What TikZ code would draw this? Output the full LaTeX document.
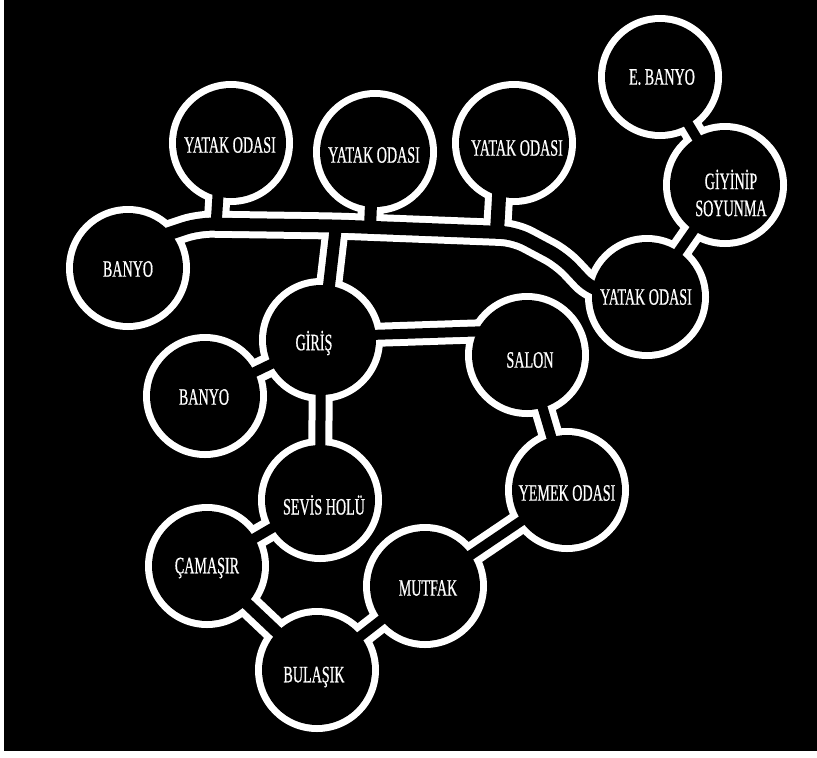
\documentclass[tikz,border=0pt]{standalone}
\usepackage{fontspec}
\newfontfamily\lblfont[FakeStretch=0.6,FakeBold=0.6]{Liberation Serif}
\begin{document}
\begin{tikzpicture}[x=1pt,y=-1pt,
  wallw/.style={draw=white,line width=#1,line cap=butt,line join=round},
  wallb/.style={draw=black,line width=#1,line cap=butt,line join=round},
  lbl/.style={text=white,font=\lblfont\fontsize{23.5}{27}\selectfont,align=center,inner sep=0pt}]
\useasboundingbox (0,0) rectangle (817,758);
\fill[white] (0,0) rectangle (817,758);
\fill[black] (4,0) rectangle (817,751);
% room centres
\coordinate (ya) at (231,143);
\coordinate (yb) at (375,152);
\coordinate (yc) at (514,143);
\coordinate (eb) at (660,77);
\coordinate (gs) at (725,185);
\coordinate (yd) at (647,297);
\coordinate (ba) at (128,268);
\coordinate (gi) at (321,340);
\coordinate (bb) at (205,396);
\coordinate (sa) at (527,355);
\coordinate (ye) at (567,490);
\coordinate (se) at (320,500);
\coordinate (ca) at (207,566);
\coordinate (mu) at (425,586);
\coordinate (bu) at (317,670);
% hallway points
\coordinate (h0) at (150,240);
\coordinate (hA) at (198,224);
\coordinate (h1) at (336,226);
\coordinate (h2) at (515,233);
\coordinate (h3) at (562,258);
\coordinate (h4) at (592,290);
\coordinate (h5) at (640,297);
\coordinate (na) at (219,180);
\coordinate (nb) at (372,180);
\coordinate (nc) at (500,180);
\coordinate (ma) at (216,226);
\coordinate (mb) at (370,228);
\coordinate (mc) at (497,232);
\coordinate (gu) at (325,320);
\coordinate (gsa1) at (340,336);
\coordinate (gsa2) at (490,331);
% white pass
\foreach \c in {ya,yb,yc,eb,gs,yd,ba,gi,bb,sa,ye,se,ca,mu,bu}
  \fill[white] (\c) circle (62pt);
\draw[wallw=27,rounded corners=14pt] (h0) -- (hA) -- (h1) -- (h2) -- (h3) -- (h4) -- (h5);
\foreach \a/\b/\w in {na/ma/11, nb/mb/12, nc/mc/14, h1/gu/12, gsa1/gsa2/10,
  gi/se/10, gi/bb/10, sa/ye/10, ye/mu/10, mu/bu/10, bu/ca/12, ca/se/10,
  eb/gs/10, gs/yd/10}
  \draw[wallw=\w+14] (\a) -- (\b);
% black pass
\foreach \c in {ya,yb,yc,eb,gs,yd,ba,gi,bb,sa,ye,se,ca,mu,bu}
  \fill[black] (\c) circle (55pt);
\draw[wallb=13,rounded corners=14pt] (h0) -- (hA) -- (h1) -- (h2) -- (h3) -- (h4) -- (h5);
\foreach \a/\b/\w in {na/ma/11, nb/mb/12, nc/mc/14, h1/gu/12, gsa1/gsa2/10,
  gi/se/10, gi/bb/10, sa/ye/10, ye/mu/10, mu/bu/10, bu/ca/12, ca/se/10,
  eb/gs/10, gs/yd/10}
  \draw[wallb=\w] (\a) -- (\b);
% labels
\node[lbl] (tya) at (230,145) {YATAK ODASI};
\node[lbl] (tyb) at (374,155) {YATAK ODASI};
\node[lbl] (tyc) at (517,148) {YATAK ODASI};
\node[lbl] (teb) at (662,77) {E. BANYO};
\node[lbl] (tgs) at (731,193) {GİYİNİP\\SOYUNMA};
\node[lbl] (tyd) at (646,297) {YATAK ODASI};
\node[lbl] (tba) at (128,269) {BANYO};
\node[lbl] (tgi) at (314,343) {GİRİŞ};
\node[lbl] (tbb) at (204,397) {BANYO};
\node[lbl] (tsa) at (530,360) {SALON};
\node[lbl] (tye) at (567,493) {YEMEK ODASI};
\node[lbl] (tse) at (324,505) {SEVİS HOLÜ};
\node[lbl] (tca) at (207,568) {ÇAMAŞIR};
\node[lbl] (tmu) at (428,588) {MUTFAK};
\node[lbl] (tbu) at (314,677) {BULAŞIK};
\end{tikzpicture}
\end{document}
